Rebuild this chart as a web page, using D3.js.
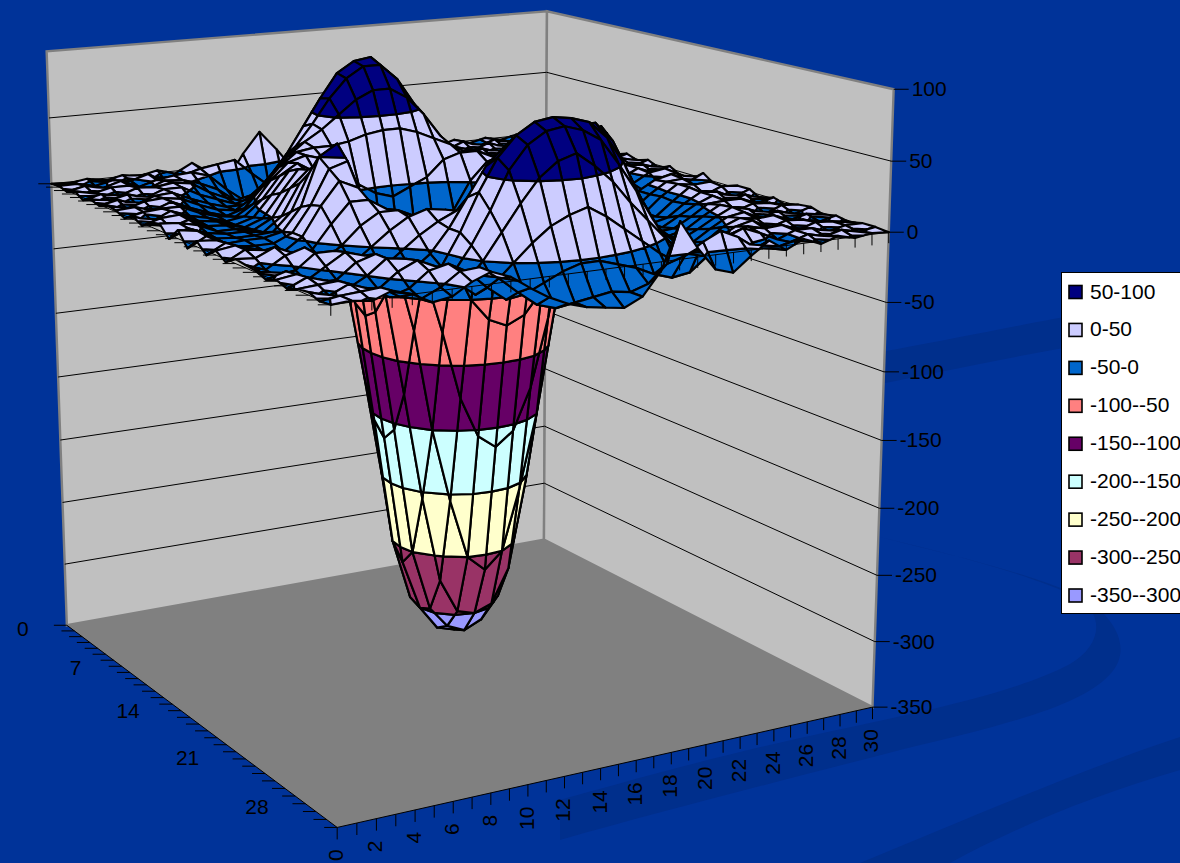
<!DOCTYPE html>
<html>
<head>
<meta charset="utf-8">
<script src="https://cdn.jsdelivr.net/npm/d3@7/dist/d3.min.js"></script>
<style>
html,body{margin:0;padding:0;background:#003399;overflow:hidden}
svg{display:block}
text{font-family:"Liberation Sans",Arial,sans-serif;fill:#000}
</style>
</head>
<body>
<svg id="chart" width="1180" height="863"></svg>
<script>
// Surface heights: one row per depth series (0..30), one value per category (0..30).
const heights = [
[0,-1,1,-2,1,-1,2,-2,5,-4,-12,8,24,9,-8,-6,3,-2,2,-3,2,-2,3,-2,2,-2,1,-2,1,-1,0],
[1,1,-2,1,-1,3,-5,-1,3,5,7,-5,-16,-22,-16,-12,-6,-4,3,-3,2,-3,2,-2,3,-2,2,-1,2,-1,1],
[-1,2,-1,3,-3,1,3,4,0,-12,-22,-20,-15,-9,-1,3,0,-6,-10,-8,-3,2,-3,2,-2,3,-2,2,-1,2,-1],
[2,-1,2,2,-2,3,2,-2,-8,-18,-15,-8,4,16,28,36,36,24,10,-3,-10,-7,1,-3,2,-2,2,-2,2,-1,2],
[-2,1,-2,3,2,4,2,-6,-12,-16,-6,8,24,46,64,72,74,60,40,20,0,-10,-5,2,-2,3,-2,2,-2,2,-1],
[1,-1,2,-2,3,3,-4,-9,-14,-10,4,20,40,60,78,86,88,76,54,30,6,-9,-9,-2,3,-2,2,-3,2,-1,1],
[-1,2,-3,2,3,-3,-8,-12,-12,0,14,28,44,62,76,84,84,72,52,30,10,-6,-11,-6,2,-3,3,-2,2,-2,2],
[2,-2,2,3,1,-5,-10,-12,-4,10,24,34,42,52,62,68,68,60,46,28,12,-3,-10,-10,-4,2,-3,3,-2,2,-1],
[1,2,-2,3,-3,-8,-12,-8,6,20,30,32,32,34,38,40,40,36,30,24,16,6,-5,-10,-9,-3,2,-2,3,-2,2],
[-2,1,2,2,-4,-8,-10,-2,14,26,30,26,16,4,-4,-8,-2,4,16,20,20,14,4,-5,-10,-8,-2,3,-2,2,-1],
[2,-3,3,-2,-5,-9,-7,4,20,28,20,4,-22,-50,-66,-72,-66,-50,-20,1,14,18,14,4,-6,-9,-5,1,3,-2,2],
[-2,2,3,-3,-5,-9,-5,10,26,24,4,-30,-75,-125,-155,-165,-155,-125,-72,-28,1,16,20,10,-2,-7,-6,-2,3,2,-2],
[3,-2,2,-4,-5,-8,-3,14,30,14,-24,-75,-150,-205,-250,-262,-250,-205,-150,-72,-23,6,22,20,4,-7,-8,-3,3,-2,2],
[5,4,1,-5,-5,-7,0,20,32,10,-50,-125,-205,-270,-295,-300,-295,-270,-205,-125,-48,-6,18,26,8,-6,-9,-5,2,4,-3],
[-3,3,-2,-4,-4,-6,4,26,38,14,-66,-155,-250,-296,-312,-318,-312,-296,-250,-155,-65,-9,24,28,12,-4,-10,-8,-4,3,-3],
[6,4,-3,-4,-4,-3,10,36,50,22,-72,-165,-262,-300,-318,-322,-318,-300,-262,-165,-72,-6,30,4,-12,-13,-4,3,6,-2,4],
[-4,3,-4,-3,-3,0,16,50,58,20,-66,-155,-250,-296,-312,-318,-312,-296,-250,-155,-66,0,40,6,-12,-14,-4,4,5,-3,-2],
[4,3,-3,-4,-4,2,20,44,48,14,-50,-125,-205,-270,-296,-300,-295,-270,-205,-125,-50,12,50,12,-12,-14,-3,5,3,4,-3],
[-3,4,-2,-5,-7,2,22,38,32,8,-24,-75,-150,-205,-250,-262,-250,-205,-150,-75,-10,44,52,8,-12,-14,-4,5,-2,3,2],
[3,5,1,-4,-8,-4,12,26,26,18,0,-30,-75,-125,-155,-165,-155,-125,-75,-15,38,58,30,-4,-15,-12,-3,4,3,-3,2],
[-2,5,3,-6,-14,-10,0,12,20,20,14,0,-22,-50,-66,-72,-66,-50,-6,40,58,44,8,-12,-15,-8,-1,4,-2,2,-3],
[3,2,8,2,-10,-16,-10,0,10,18,22,20,14,2,-4,-6,0,14,46,62,54,24,-4,-14,-13,-6,2,3,3,-2,1],
[2,-3,5,9,0,-12,-18,-12,-2,8,16,22,28,36,40,40,44,52,64,70,50,20,-4,-14,-11,-3,4,-2,2,1,-2],
[1,-4,-2,8,8,-2,-14,-18,-12,-2,14,34,54,66,72,74,74,76,76,62,36,8,-10,-14,-8,-1,5,2,-3,2,1],
[-2,2,-6,2,10,6,-6,-16,-16,-8,14,40,62,76,84,86,84,80,68,48,22,0,-12,-13,-5,2,4,-2,2,-2,2],
[1,3,-5,-4,6,10,3,-10,-16,-10,8,30,56,72,80,82,78,70,52,32,10,-8,-15,-10,-1,4,2,3,-2,1,-1],
[-2,4,0,-7,0,10,8,-3,-14,-14,0,18,36,52,62,66,56,44,28,14,0,-12,-14,-5,2,5,-2,2,1,-2,1],
[1,2,3,-6,-6,4,10,4,-8,-18,-12,0,12,22,28,32,24,14,4,-6,-14,-16,-7,1,5,2,3,-2,2,1,-1],
[2,-2,4,-1,-8,-4,6,9,2,-10,-20,-18,-12,-6,-2,-2,-6,-10,-16,-20,-18,-8,3,8,3,-3,2,2,-2,1,1],
[-1,1,2,3,-5,-8,-2,7,8,-1,-12,-22,-26,-24,-22,-20,-22,-18,-6,-2,6,12,6,-3,-5,-2,2,-1,2,-1,1],
[0,1,-1,4,0,-7,-5,3,8,3,-6,-14,-20,-24,-26,-28,-22,-6,26,6,-10,-14,-4,5,-3,3,-2,2,-1,1,0]
];

const bandLabels = ["50-100","0-50","-50-0","-100--50","-150--100","-200--150","-250--200","-300--250","-350--300"];
const bandLows   = [50,0,-50,-100,-150,-200,-250,-300,-350];
const bandColors = ["#000080","#CCCCFF","#0066CC","#FF8080","#660066","#CCFFFF","#FFFFCC","#993366","#9999FF"];
const heightTicks = [100,50,0,-50,-100,-150,-200,-250,-300,-350];
const categoryLabels = d3.range(0,31,2);
const seriesLabels = [0,7,14,21,28];
const bandStep = 50;

// Axis scales normalise the three data dimensions onto the unit box.
const catScale = d3.scaleLinear().domain([0,30]).range([0,1]);
const serScale = d3.scaleLinear().domain([0,30]).range([0,1]);
const zScale   = d3.scaleLinear().domain([-350,100]).range([0,1]);

// Where box corners sit on the page: [unit x, unit y, unit z, page x, page y].
const z0 = zScale(0);
const boxAnchors = [
  [0,0,0,66,624],[0,0,1,46,52],[1,0,0,545,540],[1,0,1,547,10],
  [1,1,0,872,707],[1,1,1,893,88],[0,1,0,337,828],
  [0,0,z0,52,183],[1,0,z0,546,135],[1,1,z0,889,232],[0,1,z0,332,306]
];

// Least-squares fit of a 3x4 camera matrix through the anchors.
function fitCamera(anchors){
  const A=[],B=[];
  anchors.forEach(([x,y,z,px,py])=>{
    A.push([x,y,z,1,0,0,0,0,-px*x,-px*y,-px*z]);B.push(px);
    A.push([0,0,0,0,x,y,z,1,-py*x,-py*y,-py*z]);B.push(py);
  });
  const n=11,M=d3.range(n).map(r=>d3.range(n+1).map(c=>{
    let s=0;
    for(let k=0;k<A.length;k++) s+=A[k][r]*(c<n?A[k][c]:B[k]);
    return s;
  }));
  for(let c=0;c<n;c++){
    let p=c;
    for(let r=c+1;r<n;r++) if(Math.abs(M[r][c])>Math.abs(M[p][c])) p=r;
    [M[c],M[p]]=[M[p],M[c]];
    for(let r=0;r<n;r++){
      if(r===c) continue;
      const f=M[r][c]/M[c][c];
      for(let k=c;k<=n;k++) M[r][k]-=f*M[c][k];
    }
  }
  return M.map((row,i)=>row[n]/row[i]);
}
const cam = fitCamera(boxAnchors);
function project(cat,ser,h){
  const x=catScale(cat),y=serScale(ser),z=zScale(h);
  const w=cam[8]*x+cam[9]*y+cam[10]*z+1;
  return [(cam[0]*x+cam[1]*y+cam[2]*z+cam[3])/w,(cam[4]*x+cam[5]*y+cam[6]*z+cam[7])/w];
}
const pathOf = pts => "M"+pts.map(p=>p[0].toFixed(2)+","+p[1].toFixed(2)).join("L")+"Z";
const lineOf = pts => "M"+pts.map(p=>p[0].toFixed(2)+","+p[1].toFixed(2)).join("L");

const svg = d3.select("#chart");

// Slide backdrop with its darker swooshes.
svg.append("rect").attr("width",1180).attr("height",863).attr("fill","#003399");
const swooshes = [
 "M880,537C960,556 1040,578 1078,598C1108,618 1098,648 1070,664C1010,696 900,716 800,738C720,756 660,772 560,800L560,840C680,806 800,776 900,750C1000,726 1085,706 1112,672C1134,645 1110,612 1080,596C1020,570 950,555 880,537Z",
 "M880,352C950,340 1030,322 1180,296L1180,330C1060,346 970,366 880,384Z",
 "M860,863C960,822 1080,770 1180,737L1180,770C1090,796 1010,830 950,863Z"
];
svg.append("g").selectAll("path").data(swooshes).join("path")
  .attr("d",d=>d).attr("fill","#002f8c");

// Walls and floor.
const chartG = svg.append("g");
const boxPoly=(corners)=>pathOf(corners.map(c=>project(c[0],c[1],c[2])));
chartG.append("path").attr("d",boxPoly([[0,0,-350],[30,0,-350],[30,0,100],[0,0,100]])).attr("fill","#C0C0C0").attr("stroke","#808080").attr("stroke-width",2.4);
chartG.append("path").attr("d",boxPoly([[30,0,-350],[30,30,-350],[30,30,100],[30,0,100]])).attr("fill","#C0C0C0").attr("stroke","#808080").attr("stroke-width",2.4);
chartG.append("path").attr("d",boxPoly([[0,0,-350],[0,30,-350],[30,30,-350],[30,0,-350]])).attr("fill","#808080");

// Horizontal gridlines round the two walls.
chartG.append("g").selectAll("path").data(heightTicks.slice(1,-1)).join("path")
  .attr("d",t=>lineOf([project(0,0,t),project(30,0,t),project(30,30,t)]))
  .attr("fill","none").attr("stroke","#000").attr("stroke-width",1);

// Split a mesh cell into height bands and paint from the far corner forward.
function clip(poly,limit,keepAbove){
  const out=[],inside=p=>keepAbove?p[2]>=limit:p[2]<=limit;
  poly.forEach((p,k)=>{
    const q=poly[(k+1)%poly.length],a=inside(p),b=inside(q);
    if(a) out.push(p);
    if(a!==b){
      const t=(limit-p[2])/(q[2]-p[2]);
      out.push([p[0]+t*(q[0]-p[0]),p[1]+t*(q[1]-p[1]),limit]);
    }
  });
  return out;
}
const facets=[];
for(let i=29;i>=0;i--){
  for(let j=0;j<30;j++){
    const cell=[[i,j,heights[j][i]],[i+1,j,heights[j][i+1]],[i+1,j+1,heights[j+1][i+1]],[i,j+1,heights[j+1][i]]];
    bandLows.slice().reverse().forEach(lo=>{
      let poly=clip(cell,lo,true);
      if(poly.length>=3) poly=clip(poly,lo+bandStep,false);
      if(poly.length>=3){
        facets.push({d:pathOf(poly.map(p=>project(p[0],p[1],p[2]))),fill:bandColors[bandLows.indexOf(lo)]});
      }
    });
  }
}
chartG.append("g").attr("stroke","#000").attr("stroke-width",2.2).attr("stroke-linejoin","round")
  .selectAll("path").data(facets).join("path")
  .attr("d",d=>d.d).attr("fill",d=>d.fill);

// Axis lines and ticks, on the floor and again where the axes cross height zero.
const cats=d3.range(0,31),sers=d3.range(0,31);
const axisG=svg.append("g").attr("stroke","#000").attr("stroke-width",1).attr("fill","none");
[-350,0].forEach(level=>{
  const down = level===0?11:12, left = 13;
  axisG.append("path").attr("d",lineOf([project(0,30,level),project(30,30,level)]));
  axisG.append("path").attr("d",lineOf([project(0,0,level),project(0,30,level)]));
  axisG.append("g").selectAll("path").data(cats).join("path").attr("d",c=>{
    const p=project(c,30,level);return lineOf([p,[p[0],p[1]+down]]);
  });
  axisG.append("g").selectAll("path").data(sers).join("path").attr("d",s=>{
    const p=project(0,s,level);return lineOf([p,[p[0]-left,p[1]]]);
  });
});
axisG.append("g").selectAll("path").data(heightTicks).join("path").attr("d",t=>{
  const p=project(30,30,t);return lineOf([p,[p[0]+15,p[1]]]);
});

// Axis labels; the depth labels drift further from the axis towards the viewer.
const labelSize=21;
const serLabelDx=d3.scaleLinear().domain(seriesLabels).range([-44,-46,-53,-58,-59]);
const serLabelDy=d3.scaleLinear().domain(seriesLabels).range([11,9,7,6,2]);
svg.append("g").selectAll("text").data(heightTicks).join("text")
  .attr("x",t=>project(30,30,t)[0]+18).attr("y",t=>project(30,30,t)[1]+7)
  .attr("font-size",labelSize).text(t=>t);
svg.append("g").selectAll("text").data(seriesLabels).join("text")
  .attr("x",s=>project(0,s,-350)[0]+serLabelDx(s)).attr("y",s=>project(0,s,-350)[1]+serLabelDy(s))
  .attr("text-anchor","middle").attr("font-size",labelSize).text(s=>s);
svg.append("g").selectAll("text").data(categoryLabels).join("text")
  .attr("transform",c=>{const p=project(c,30,-350);return `translate(${p[0]+6},${p[1]+22}) rotate(-90)`;})
  .attr("text-anchor","end").attr("font-size",labelSize).text(c=>c);

// Legend box, running off the right edge of the page.
const legend=svg.append("g");
legend.append("rect").attr("x",1061.5).attr("y",272.5).attr("width",140).attr("height",341)
  .attr("fill","#fff").attr("stroke","#000").attr("stroke-width",1);
const legendY=d3.scaleLinear().domain([0,8]).range([291.5,595]);
const items=legend.selectAll("g").data(bandLabels).join("g")
  .attr("transform",(d,k)=>`translate(0,${legendY(k)})`);
items.append("rect").attr("x",1069).attr("y",-6).attr("width",13).attr("height",13)
  .attr("fill",(d,k)=>bandColors[k]).attr("stroke","#000").attr("stroke-width",1.6);
items.append("text").attr("x",1090).attr("y",7).attr("font-size",labelSize).text(d=>d);
</script>
</body>
</html>
